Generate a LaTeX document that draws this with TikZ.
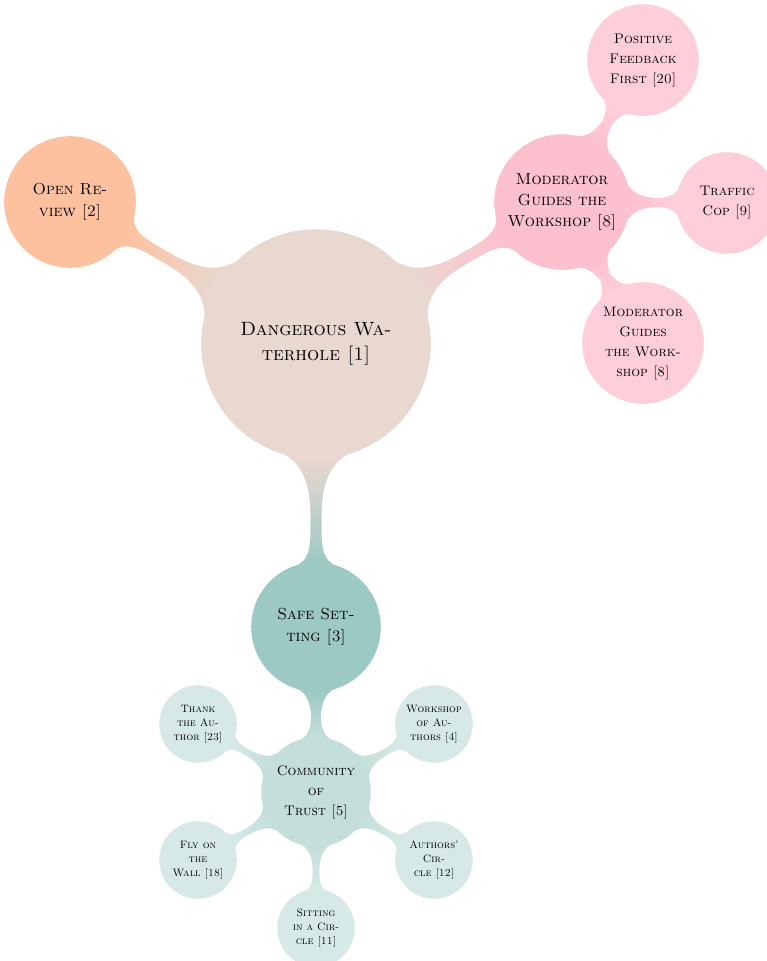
\documentclass[tikz,border=0pt]{standalone}
\usepackage{fontspec}
\usetikzlibrary{mindmap}

\definecolor{waterholecol}{RGB}{233,216,208}
\definecolor{reviewcol}{RGB}{253,193,160}
\definecolor{moderatorcol}{RGB}{253,192,207}
\definecolor{moderatorsubcol}{RGB}{254,206,219}
\definecolor{safecol}{RGB}{156,201,195}
\definecolor{trustcol}{RGB}{196,223,219}
\definecolor{trustsubcol}{RGB}{214,233,230}

\begin{document}
\begin{tikzpicture}[x=0.75pt,y=0.75pt,yscale=-1,xscale=1,mindmap,
  idea/.style={concept,circle,inner sep=0pt,align=center,text width={},text=black},
  rootidea/.style={idea,minimum size=171pt,font=\fontsize{14.4}{18.75}\selectfont\scshape},
  firstidea/.style={idea,minimum size=97.5pt,font=\fontsize{12}{16}\selectfont\scshape},
  secondidea/.style={idea,minimum size=75pt,font=\fontsize{10.4}{15}\selectfont\scshape},
  thirdidea/.style={idea,minimum size=57pt,font=\fontsize{8}{10.5}\selectfont\scshape},
  bigbar/.style={line width=10pt},
  smallbar/.style={line width=6pt}]
\useasboundingbox (0,0) rectangle (767,961);

% Text Node
\node [rootidea,concept color=waterholecol] (waterhole) at (316,344) {Dangerous Wa-\\terhole [1]};
% Text Node
\node [firstidea,concept color=reviewcol] (openreview) at (70,202) {Open Re-\\view [2]};
% Text Node
\node [firstidea,minimum size=100.5pt,concept color=moderatorcol] (moderator) at (562,202) {Moderator\\Guides the\\Workshop [8]};
% Text Node
\node [firstidea,minimum size=96pt,concept color=safecol] (safesetting) at (316,627) {Safe Set-\\ting [3]};

% Text Node
\node [secondidea,minimum size=82.5pt,concept color=moderatorsubcol] (feedback) at (643,60) {Positive\\Feedback\\First [20]};
% Text Node
\node [secondidea,concept color=moderatorsubcol] (trafficcop) at (727,203) {Traffic\\Cop [9]};
% Text Node
\node [secondidea,minimum size=90pt,concept color=moderatorsubcol] (moderatortwo) at (643,343) {Moderator\\Guides\\the Work-\\shop [8]};
% Text Node
\node [secondidea,minimum size=81pt,concept color=trustcol] (trust) at (316,792) {Community\\of\\Trust [5]};

% Text Node
\node [thirdidea,concept color=trustsubcol] (thankauthor) at (198,724) {Thank\\the Au-\\thor [23]};
% Text Node
\node [thirdidea,concept color=trustsubcol] (authorsworkshop) at (434,724) {Workshop\\of Au-\\thors [4]};
% Text Node
\node [thirdidea,concept color=trustsubcol] (flywall) at (198,860) {Fly on\\the\\Wall [18]};
% Text Node
\node [thirdidea,concept color=trustsubcol] (authorscircle) at (434,860) {Authors'\\Cir-\\cle [12]};
% Text Node
\node [thirdidea,concept color=trustsubcol] (sittingcircle) at (316,928) {Sitting\\in a Cir-\\cle [11]};

%Connections
\path [bigbar] (waterhole) to [circle connection bar switch color=from (waterholecol) to (reviewcol)] (openreview);
\path [bigbar] (waterhole) to [circle connection bar switch color=from (waterholecol) to (moderatorcol)] (moderator);
\path [bigbar] (waterhole) to [circle connection bar switch color=from (waterholecol) to (safecol)] (safesetting);
\path [smallbar] (moderator) to [circle connection bar switch color=from (moderatorcol) to (moderatorsubcol)] (feedback);
\path [smallbar] (moderator) to [circle connection bar switch color=from (moderatorcol) to (moderatorsubcol)] (trafficcop);
\path [smallbar] (moderator) to [circle connection bar switch color=from (moderatorcol) to (moderatorsubcol)] (moderatortwo);
\path [smallbar] (safesetting) to [circle connection bar switch color=from (safecol) to (trustcol)] (trust);
\foreach \leaf in {thankauthor,authorsworkshop,flywall,authorscircle,sittingcircle}
  \path [smallbar] (trust) to [circle connection bar switch color=from (trustcol) to (trustsubcol)] (\leaf);

\end{tikzpicture}
\end{document}
